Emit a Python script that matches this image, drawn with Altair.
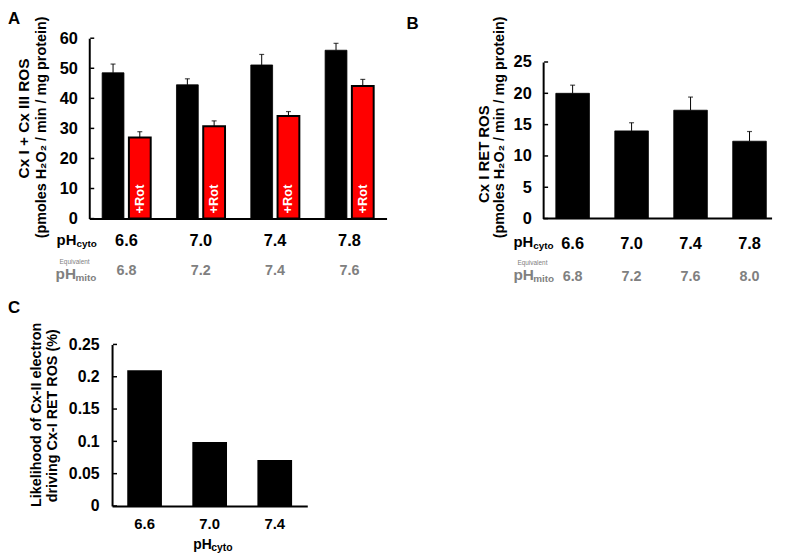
import altair as alt
import pandas as pd

FONT = "Liberation Sans"
GREY = "#808080"

# ---------------- data ----------------
cyto = ["6.6", "7.0", "7.4", "7.8"]
mito_a = ["6.8", "7.2", "7.4", "7.6"]
mito_b = ["6.8", "7.2", "7.6", "8.0"]
conds = ["ctrl", "rot"]
a_ctrl = [48.5, 44.5, 51.1, 56.0]
a_ctrl_err = [2.9, 2.0, 3.5, 2.3]
a_rot = [27.0, 30.7, 34.1, 44.1]
a_rot_err = [1.9, 1.8, 1.5, 2.2]
b_vals = [20.0, 14.0, 17.3, 12.35]
b_err = [1.3, 1.3, 2.1, 1.55]
c_cyto = ["6.6", "7.0", "7.4"]
c_vals = [0.21, 0.099, 0.071]
a_ticks = [0, 10, 20, 30, 40, 50, 60]
b_ticks = [0, 5, 10, 15, 20, 25]
c_ticks = [0, 0.05, 0.1, 0.15, 0.2, 0.25]

dfA = pd.DataFrame({
    "cyto": cyto * 2,
    "cond": ["ctrl"] * 4 + ["rot"] * 4,
    "value": a_ctrl + a_rot,
    "err": a_ctrl_err + a_rot_err,
})
dfA["top"] = dfA["value"] + dfA["err"]
dfB = pd.DataFrame({"cyto": cyto, "value": b_vals, "err": b_err})
dfB["top"] = dfB["value"] + dfB["err"]
dfC = pd.DataFrame({"cyto": c_cyto, "value": c_vals})


def txt(s, x, y, size, color="black", weight="bold", align="left",
        baseline="alphabetic", angle=0):
    return alt.Chart(pd.DataFrame({"t": [s]})).mark_text(
        font=FONT, fontSize=size, fontWeight=weight, color=color,
        align=align, baseline=baseline, angle=angle
    ).encode(text="t:N", x=alt.value(x), y=alt.value(y))


def xaxis(pad, size=16.5, domain=True):
    return alt.Axis(title=None, labelAngle=0, labelFont=FONT, labelFontSize=size,
                    labelFontWeight="bold", labelColor="black", labelPadding=pad,
                    ticks=False, tickSize=0, domain=domain, domainColor="black",
                    domainWidth=2, grid=False, labelOverlap=False)


def yaxis(values, pad=12, size=16.5, fmt="d", offset=0):
    return alt.Axis(title=None, values=values, format=fmt, labelFont=FONT,
                    labelFontSize=size, labelFontWeight="bold", labelColor="black",
                    labelPadding=pad, ticks=False, tickSize=0, domainColor="black",
                    domainWidth=2, grid=False, offset=offset, labelOverlap=False)


def inward_ticks(values, x0, ax):
    return alt.Chart(pd.DataFrame({"value": values})).mark_rule(
        color="black", strokeWidth=1.5
    ).encode(y=alt.Y("value:Q", axis=ax), x=alt.value(x0), x2=alt.value(x0 + 4))


# ---------------- panel A ----------------
axA_x = xaxis(14)
axA_y = yaxis(a_ticks)
xA = alt.X("cyto:N", sort=cyto, scale=alt.Scale(paddingInner=0, paddingOuter=0),
           axis=axA_x)
yA = alt.Y("value:Q", scale=alt.Scale(domain=[0, 60], nice=False), axis=axA_y)
xoffA = alt.XOffset("cond:N", sort=conds,
                    scale=alt.Scale(domain=conds, paddingInner=0.185, paddingOuter=0.4815))

barsA = alt.Chart(dfA).mark_bar(stroke="black").encode(
    x=xA, y=yA, xOffset=xoffA,
    color=alt.Color("cond:N", scale=alt.Scale(domain=conds, range=["black", "#ff0000"]),
                    legend=None),
    strokeWidth=alt.condition("datum.cond == 'rot'", alt.value(2), alt.value(0.8)),
)
errA = alt.Chart(dfA).mark_rule(color="black", strokeWidth=1).encode(
    x=xA, xOffset=xoffA, y=alt.Y("value:Q", axis=axA_y), y2="top:Q")
capA = alt.Chart(dfA).mark_tick(color="black", thickness=1.2, size=5).encode(
    x=xA, xOffset=xoffA, y=alt.Y("top:Q", axis=axA_y))
rotA = alt.Chart(dfA[dfA["cond"] == "rot"]).mark_text(
    text="+Rot", angle=270, align="left", baseline="middle", color="white",
    font=FONT, fontSize=13, fontWeight="bold"
).encode(x=xA, xOffset=xoffA, y=alt.Y(datum=1.7, axis=axA_y))
mitoA = alt.Chart(pd.DataFrame({"cyto": cyto, "mito": mito_a})).mark_text(
    font=FONT, fontSize=14.5, fontWeight="bold", color=GREY, baseline="alphabetic"
).encode(x=xA, y=alt.value(239), text="mito:N")

A = alt.layer(
    barsA, errA, capA, rotA, inward_ticks(a_ticks, 1, axA_y), mitoA,
    txt("A", -82, -27, 17, baseline="top"),
    txt("Cx I + Cx III ROS", -66, 81, 15.5, align="center", baseline="middle", angle=270),
    txt("(pmoles H\u2082O\u2082 / min / mg protein)", -48, 90, 14.5, align="center",
        baseline="middle", angle=270),
    txt("pH", -33, 209, 15),
    txt("cyto", -13, 211, 10),
    txt("Equivalent", -30, 227.5, 6.5, color=GREY, weight="normal"),
    txt("pH", -34, 243, 15.5, color=GREY),
    txt("mito", -14, 245, 10, color=GREY),
).properties(width=300, height=182)

# ---------------- panel B ----------------
axB_x = xaxis(17, domain=False)
axB_y = yaxis(b_ticks)
xB = alt.X("cyto:N", sort=cyto,
           scale=alt.Scale(range=[0, 238], paddingInner=0.43, paddingOuter=0.215),
           axis=axB_x)
yB = alt.Y("value:Q", scale=alt.Scale(domain=[0, 25], nice=False, range=[182, 24]),
           axis=axB_y)
barsB = alt.Chart(dfB).mark_bar(color="black", stroke="black", strokeWidth=0.8).encode(
    x=xB, y=yB)
errB = alt.Chart(dfB).mark_rule(color="black", strokeWidth=1).encode(
    x=xB, y=alt.Y("value:Q", axis=axB_y), y2="top:Q")
capB = alt.Chart(dfB).mark_tick(color="black", thickness=1.2, size=5).encode(
    x=xB, y=alt.Y("top:Q", axis=axB_y))
baseB = alt.Chart(pd.DataFrame({"value": [0]})).mark_rule(color="black", strokeWidth=2).encode(
    y=alt.Y("value:Q", axis=axB_y))
mitoB = alt.Chart(pd.DataFrame({"cyto": cyto, "mito": mito_b})).mark_text(
    font=FONT, fontSize=14.5, fontWeight="bold", color=GREY, baseline="alphabetic"
).encode(x=xB, y=alt.value(245), text="mito:N")

B = alt.layer(
    barsB, errB, capB, baseB, inward_ticks(b_ticks, 1, axB_y), mitoB,
    txt("B", -138, -22.8, 17, baseline="top"),
    txt("Cx I RET ROS", -60, 117, 15, align="center", baseline="middle", angle=270),
    txt("(pmoles H\u2082O\u2082 / min / mg protein)", -44, 90, 14.5, align="center",
        baseline="middle", angle=270),
    txt("pH", -30, 211, 15),
    txt("cyto", -10, 213, 10),
    txt("Equivalent", -26, 228.5, 6.5, color=GREY, weight="normal"),
    txt("pH", -30, 244, 15.5, color=GREY),
    txt("mito", -10, 246, 10, color=GREY),
).properties(width=231, height=182)

# ---------------- panel C ----------------
axC_x = xaxis(11, size=15)
axC_y = yaxis(c_ticks, pad=13, size=16, fmt="~g", offset=-23)
xC = alt.X("cyto:N", sort=c_cyto,
           scale=alt.Scale(range=[23, 220], paddingInner=0.467, paddingOuter=0.2335),
           axis=axC_x)
yC = alt.Y("value:Q", scale=alt.Scale(domain=[0, 0.25], nice=False), axis=axC_y)
barsC = alt.Chart(dfC).mark_bar(color="black").encode(x=xC, y=yC)

C = alt.layer(
    barsC, inward_ticks(c_ticks, 24, axC_y),
    txt("C", -82, -44.8, 17, baseline="top"),
    txt("Likelihood of Cx-II electron", -52.7, 71, 14.5, align="center",
        baseline="middle", angle=270),
    txt("driving Cx-I RET ROS (%)", -37, 72, 14.5, align="center",
        baseline="middle", angle=270),
    txt("pH", 105, 206, 14),
    txt("cyto", 123, 208, 10.5),
).properties(width=220, height=163)

chart = alt.concat(
    A, B, C, columns=2, spacing={"row": 127, "column": 158},
    bounds="flush", align="each"
).properties(padding=0).configure_view(stroke=None)

chart.save("out.html", embed_options={"renderer": "svg", "actions": False})
